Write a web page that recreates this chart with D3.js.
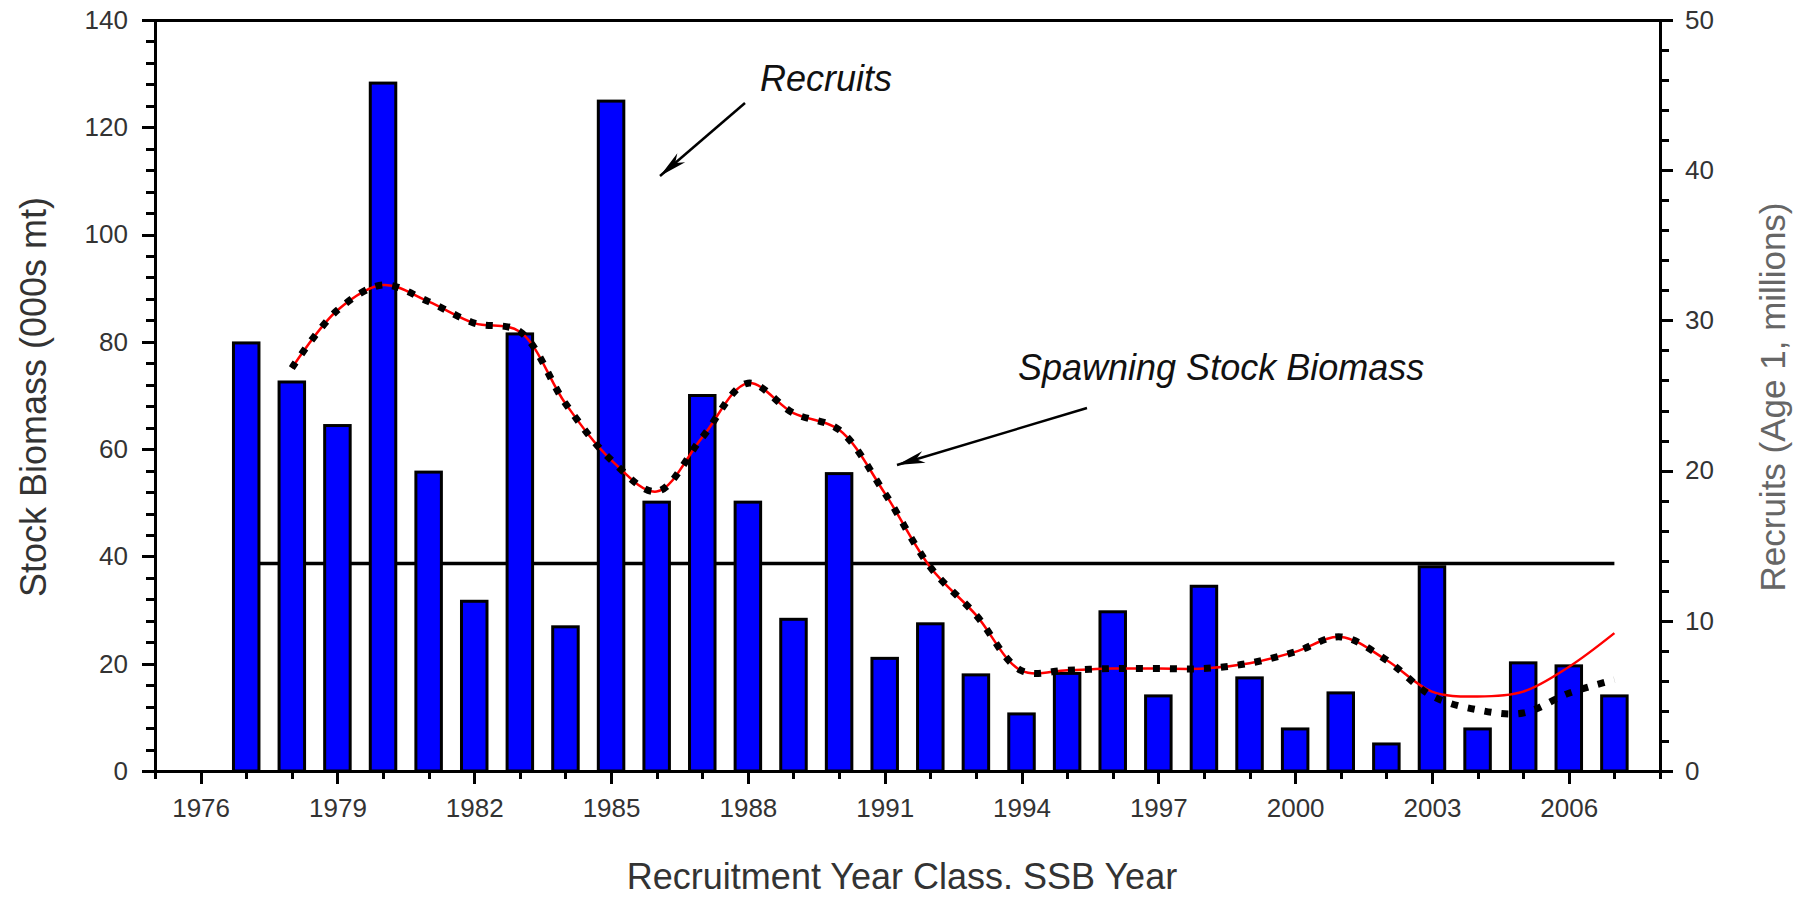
<!DOCTYPE html>
<html>
<head>
<meta charset="utf-8">
<script src="https://cdn.jsdelivr.net/npm/d3@7"></script>
<style>
  body { margin: 0; background: #fff; }
  svg { display: block; }
  .axis text { font-family: "Liberation Sans", Arial, sans-serif; font-size: 26px; fill: #333; }
  .axis path, .axis line { stroke: #000; stroke-width: 3; shape-rendering: crispEdges; }
  .title { font-family: "Liberation Sans", Arial, sans-serif; }
  .note { font-family: "Liberation Sans", Arial, sans-serif; font-style: italic; font-size: 36px; fill: #111; }
</style>
</head>
<body>
<div id="chart"></div>
<script>
'use strict';

// Recruitment year class -> recruits (age 1, millions), right axis
var barYears = [1977, 1978, 1979, 1980, 1981, 1982, 1983, 1984, 1985, 1986,
                1987, 1988, 1989, 1990, 1991, 1992, 1993, 1994, 1995, 1996,
                1997, 1998, 1999, 2000, 2001, 2002, 2003, 2004, 2005, 2006, 2007];
var recruits = [28.5, 25.9, 23.0, 45.8, 19.9, 11.3, 29.1, 9.6, 44.6, 17.9,
                25.0, 17.9, 10.1, 19.8, 7.5, 9.8, 6.4, 3.8, 6.5, 10.6,
                5.0, 12.3, 6.2, 2.8, 5.2, 1.8, 13.6, 2.8, 7.2, 7.0, 5.0];

// SSB year -> spawning stock biomass (000s mt), left axis
var ssbYears = [1978, 1979, 1980, 1981, 1982, 1983, 1984, 1985, 1986, 1987,
                1988, 1989, 1990, 1991, 1992, 1993, 1994, 1995, 1996, 1997,
                1998, 1999, 2000, 2001, 2002, 2003, 2004, 2005, 2006, 2007];
var ssbRed = [75.1, 85.9, 90.6, 87.5, 83.5, 81.9, 68.5, 58.0, 52.1, 62.2,
              72.3, 66.7, 63.6, 51.8, 38.0, 29.1, 18.7, 18.8, 19.1, 19.1,
              19.1, 20.1, 22.2, 25.0, 20.7, 14.8, 13.9, 14.8, 19.4, 25.7];
var ssbBlack = [75.1, 85.9, 90.6, 87.5, 83.5, 81.9, 68.5, 58.0, 52.1, 62.2,
                72.3, 66.7, 63.6, 51.8, 38.0, 29.1, 18.7, 18.8, 19.1, 19.1,
                19.1, 20.1, 22.2, 25.0, 20.7, 14.0, 11.4, 10.8, 14.5, 17.0];

// horizontal reference level (000s mt)
var refYears = [1977, 2007];
var refValue = 38.7;

// tick labels
var xLabelYears = [1976, 1979, 1982, 1985, 1988, 1991, 1994, 1997, 2000, 2003, 2006];
var leftTicks = [0, 20, 40, 60, 80, 100, 120, 140];
var rightTicks = [0, 10, 20, 30, 40, 50];

// Define constants
var svgWidth = 1805;
var svgHeight = 899;
var plot = {left: 155, right: 1660, top: 20, bottom: 771};
var barWidth = 25.5;

// Define scale functions
var xScale = d3.scaleLinear().domain([1975, 2008]).range([plot.left, plot.right]);
var yLeft = d3.scaleLinear().domain([0, 140]).range([plot.bottom, plot.top]);
var yRight = d3.scaleLinear().domain([0, 50]).range([plot.bottom, plot.top]);

var svg = d3.select("#chart")
  .append("svg")
    .attr("width", svgWidth)
    .attr("height", svgHeight);

// arrow heads
var defs = svg.append("defs");
defs.append("marker")
    .attr("id", "head")
    .attr("markerUnits", "userSpaceOnUse")
    .attr("viewBox", "-30 -8 32 16")
    .attr("refX", 0)
    .attr("refY", 0)
    .attr("markerWidth", 32)
    .attr("markerHeight", 16)
    .attr("orient", "auto")
  .append("path")
    .attr("d", "M0,0 L-28,-6 L-20,0 L-28,6 Z")
    .attr("fill", "#000");

// reference line (behind bars)
svg.append("line")
    .attr("x1", xScale(refYears[0]))
    .attr("x2", xScale(refYears[1]))
    .attr("y1", yLeft(refValue))
    .attr("y2", yLeft(refValue))
    .attr("stroke", "#000")
    .attr("stroke-width", 3.5);

// recruits bars
svg.append("g").selectAll("rect")
    .data(barYears)
  .enter().append("rect")
    .attr("x", function(d) { return xScale(d) - barWidth / 2; })
    .attr("y", function(d, i) { return yRight(recruits[i]); })
    .attr("width", barWidth)
    .attr("height", function(d, i) { return plot.bottom - yRight(recruits[i]); })
    .attr("fill", "#0000ff")
    .attr("stroke", "#000")
    .attr("stroke-width", 3);

// SSB lines
var redLine = d3.line()
    .x(function(d) { return xScale(d); })
    .y(function(d, i) { return yLeft(ssbRed[i]); })
    .curve(d3.curveCatmullRom);

var blackLine = d3.line()
    .x(function(d) { return xScale(d); })
    .y(function(d, i) { return yLeft(ssbBlack[i]); })
    .curve(d3.curveCatmullRom);

svg.append("path")
    .datum(ssbYears)
    .attr("fill", "none")
    .attr("stroke", "#ff0000")
    .attr("stroke-width", 2.5)
    .attr("d", redLine);

svg.append("path")
    .datum(ssbYears)
    .attr("fill", "none")
    .attr("stroke", "#000")
    .attr("stroke-width", 7)
    .attr("stroke-dasharray", "7,10")
    .attr("d", blackLine);

// x axis
var xAxis = svg.append("g")
    .attr("class", "axis")
    .attr("transform", "translate(0," + plot.bottom + ")")
    .call(d3.axisBottom(xScale)
      .tickValues(d3.range(1975, 2009))
      .tickSizeOuter(0)
      .tickFormat(function(d) { return xLabelYears.indexOf(d) >= 0 ? d : ""; }));
xAxis.selectAll(".tick line")
    .attr("y2", function(d) { return xLabelYears.indexOf(d) >= 0 ? 13 : 8; });
xAxis.selectAll(".tick text")
    .attr("y", 28)
    .attr("dy", "0.71em");

// left axis
var leftAxis = svg.append("g")
    .attr("class", "axis")
    .attr("transform", "translate(" + plot.left + ",0)")
    .call(d3.axisLeft(yLeft)
      .tickValues(d3.range(0, 141, 4))
      .tickSizeOuter(0)
      .tickFormat(function(d) { return leftTicks.indexOf(d) >= 0 ? d : ""; }));
leftAxis.selectAll(".tick line")
    .attr("x2", function(d) { return leftTicks.indexOf(d) >= 0 ? -13 : -9; });
leftAxis.selectAll(".tick text")
    .attr("x", -27);

// right axis
var rightAxis = svg.append("g")
    .attr("class", "axis")
    .attr("transform", "translate(" + plot.right + ",0)")
    .call(d3.axisRight(yRight)
      .tickValues(d3.range(0, 51, 2))
      .tickSizeOuter(0)
      .tickFormat(function(d) { return rightTicks.indexOf(d) >= 0 ? d : ""; }));
rightAxis.selectAll(".tick line")
    .attr("x2", function(d) { return rightTicks.indexOf(d) >= 0 ? 13 : 9; });
rightAxis.selectAll(".tick text")
    .attr("x", 25);

// top frame line
svg.append("line")
    .attr("x1", plot.left)
    .attr("x2", plot.right)
    .attr("y1", plot.top)
    .attr("y2", plot.top)
    .attr("stroke", "#000")
    .attr("stroke-width", 3)
    .attr("shape-rendering", "crispEdges");

// axis titles
svg.append("text")
    .attr("class", "title")
    .attr("transform", "translate(33,397) rotate(-90)")
    .attr("text-anchor", "middle")
    .attr("dominant-baseline", "central")
    .attr("font-size", 36)
    .attr("fill", "#333")
    .text("Stock Biomass (000s mt)");

svg.append("text")
    .attr("class", "title")
    .attr("transform", "translate(1772,397) rotate(-90)")
    .attr("text-anchor", "middle")
    .attr("dominant-baseline", "central")
    .attr("font-size", 35)
    .attr("fill", "#666")
    .text("Recruits (Age 1, millions)");

svg.append("text")
    .attr("class", "title")
    .attr("x", 902)
    .attr("y", 889)
    .attr("text-anchor", "middle")
    .attr("font-size", 36)
    .attr("fill", "#333")
    .text("Recruitment Year Class. SSB Year");

// annotations
svg.append("text")
    .attr("class", "note")
    .attr("x", 760)
    .attr("y", 91)
    .text("Recruits");

svg.append("line")
    .attr("x1", 745).attr("y1", 103)
    .attr("x2", 660).attr("y2", 176)
    .attr("stroke", "#000")
    .attr("stroke-width", 2.5)
    .attr("marker-end", "url(#head)");

svg.append("text")
    .attr("class", "note")
    .attr("x", 1018)
    .attr("y", 380)
    .text("Spawning Stock Biomass");

svg.append("line")
    .attr("x1", 1087).attr("y1", 408)
    .attr("x2", 897).attr("y2", 465)
    .attr("stroke", "#000")
    .attr("stroke-width", 2.5)
    .attr("marker-end", "url(#head)");
</script>
</body>
</html>
